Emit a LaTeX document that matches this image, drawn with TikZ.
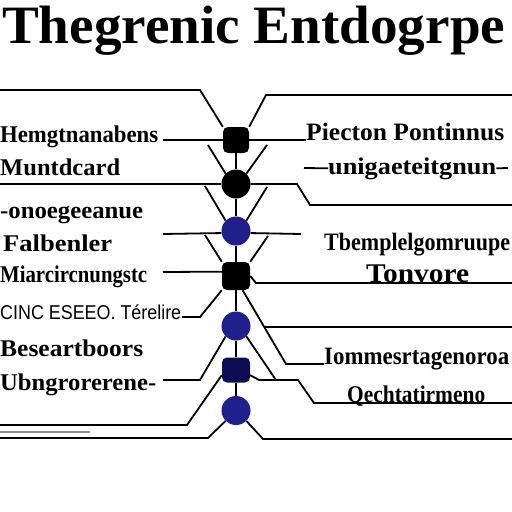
\documentclass[tikz,border=0pt]{standalone}
\usepackage{fontspec}
\setmainfont{Liberation Serif}
\newfontfamily\sansf{Liberation Sans}
\usepackage{graphicx}
\definecolor{dotblue}{RGB}{32,32,140}
\definecolor{navydot}{RGB}{12,12,80}
\newcommand\fitw[2]{\resizebox{#1pt}{\height}{#2}}
\begin{document}
\begin{tikzpicture}[x=1pt,y=-1pt,
  ln/.style={line width=1.8pt,black,line join=miter},
  sq/.style={rounded corners=5pt,minimum width=26pt,minimum height=26pt,inner sep=0pt,fill=black,draw=none},
  dot/.style={circle,minimum size=29pt,inner sep=0pt,fill=dotblue,draw=none},
  lbl/.style={inner sep=0pt,font=\bfseries\fontsize{24}{24}\selectfont},
  rlbl/.style={inner sep=0pt,font=\bfseries\fontsize{25}{25}\selectfont}]
\useasboundingbox[fill=white] (0,0) rectangle (512,512);
% title
\node[inner sep=0pt,anchor=base west,font=\bfseries\fontsize{54}{54}\selectfont] (title) at (2,43) {\fitw{503}{Thegrenic Entdogrpe}};
% spine nodes
\node[sq] (n1) at (236,140) {};
\node[dot,fill=black] (n2) at (236,184) {};
\node[dot] (n3) at (236,231) {};
\node[sq,minimum width=28pt,minimum height=28pt] (n4) at (236,276) {};
\node[dot] (n5) at (236,326) {};
\node[sq,fill=navydot,minimum width=28pt,minimum height=25pt] (n6) at (236,370) {};
\node[dot] (n7) at (236,410.5) {};
% spine
\draw[ln] (n1.south) -- (n2.north);
\draw[ln] (n2.south) -- (n3.north);
\draw[ln] (n3.south) -- (n4.north);
\draw[ln] (n4.south) -- (n5.north);
\draw[ln] (n5.south) -- (n6.north);
\draw[ln] (n6.south) -- (n7.north);
% left labels
\node[lbl,anchor=base west] (l1) at (0,142) {\fitw{158}{Hemgtnanabens}};
\node[lbl,anchor=base west] (l2) at (0,175) {\fitw{120}{Muntdcard}};
\node[lbl,anchor=base west] (l3) at (0,218) {\fitw{143}{-onoegeeanue}};
\node[lbl,anchor=base west] (l4) at (3,251) {\fitw{109}{Falbenler}};
\node[lbl,anchor=base west] (l5) at (0,282) {\fitw{147}{Miarcircnungstc}};
\node[inner sep=0pt,anchor=base west,font=\sansf\fontsize{20}{20}\selectfont] (l6) at (0,319) {\fitw{181}{CINC ESEEO. Térelire}};
\node[lbl,anchor=base west] (l7) at (0,356) {\fitw{143}{Beseartboors}};
\node[lbl,anchor=base west] (l8) at (0,390) {\fitw{156}{Ubngrorerene-}};
% right labels
\node[rlbl,anchor=base west] (r1) at (306,140) {\fitw{198}{Piecton Pontinnus}};
\node[lbl,anchor=base west] (r2) at (328,174) {\fitw{168}{unigaeteitgnun}};
\node[rlbl,anchor=base west] (r3) at (324,250) {\fitw{186}{Tbemplelgomruupe}};
\node[rlbl,anchor=base west,font=\bfseries\fontsize{27}{27}\selectfont] (r4) at (366,282) {\fitw{103}{Tonvore}};
\node[rlbl,anchor=base west] (r5) at (324,364) {\fitw{185}{Iommesrtagenoroa}};
\node[lbl,anchor=base west] (r6) at (347,402) {\fitw{138}{Qechtatirmeno}};
% connectors around n1
\draw[ln] (n1.north west) -- (200,90) -- (0,90);
\draw[ln] (n1.north east) -- (266,95) -- (512,95);
\draw[ln] (163,140) -- (n1.west);
\draw[ln] (n1.east) -- (r1.base west);
\draw[ln] (304,168) -- (r2.west);
\draw[ln] (r2.east) -- (508,168);
% n2
\draw[ln] (208,145) -- (n2.north west);
\draw[ln] (267,145) -- (n2.north east);
\draw[ln] (0,184) -- (n2.west);
\draw[ln] (n2.east) -- (297,184) -- (310,205) -- (512,205);
% n3
\draw[ln] (205,186) -- (n3.north west);
\draw[ln] (267,187) -- (n3.north east);
\draw[ln] (163,234) -- (n3.188);
\draw[ln] (n3.-8) -- (301,234);
% n4
\draw[ln] (205,235) -- (n4.north west);
\draw[ln] (268,236) -- (n4.north east);
\draw[ln] (163,272) -- (n4.163);
\draw[ln] (n4.east) -- (256,283) -- (512,283);
\draw[ln] (n4.south west) -- (200,317) -- (182,317);
\draw[ln] (n4.-65) -- (286,364) -- (r5.base west);
\draw[ln] (264,327) -- (512,327);
% n5
\draw[ln] (n5.south west) -- (200,380) -- (163,380);
\draw[ln] (n5.south east) -- (276,380);
% n6
\draw[ln] (n6.-20) -- (259,380) -- (298,380) -- (314,403) -- (512,403);
\draw[ln] (n6.200) -- (187,425) -- (0,425);
% n7
\draw[ln] (n7.south west) -- (208,438) -- (0,438);
\draw[ln] (n7.south east) -- (263,439) -- (512,439);
\draw[line width=1.2pt,black!45] (0,432) -- (90,432);
\end{tikzpicture}
\end{document}
